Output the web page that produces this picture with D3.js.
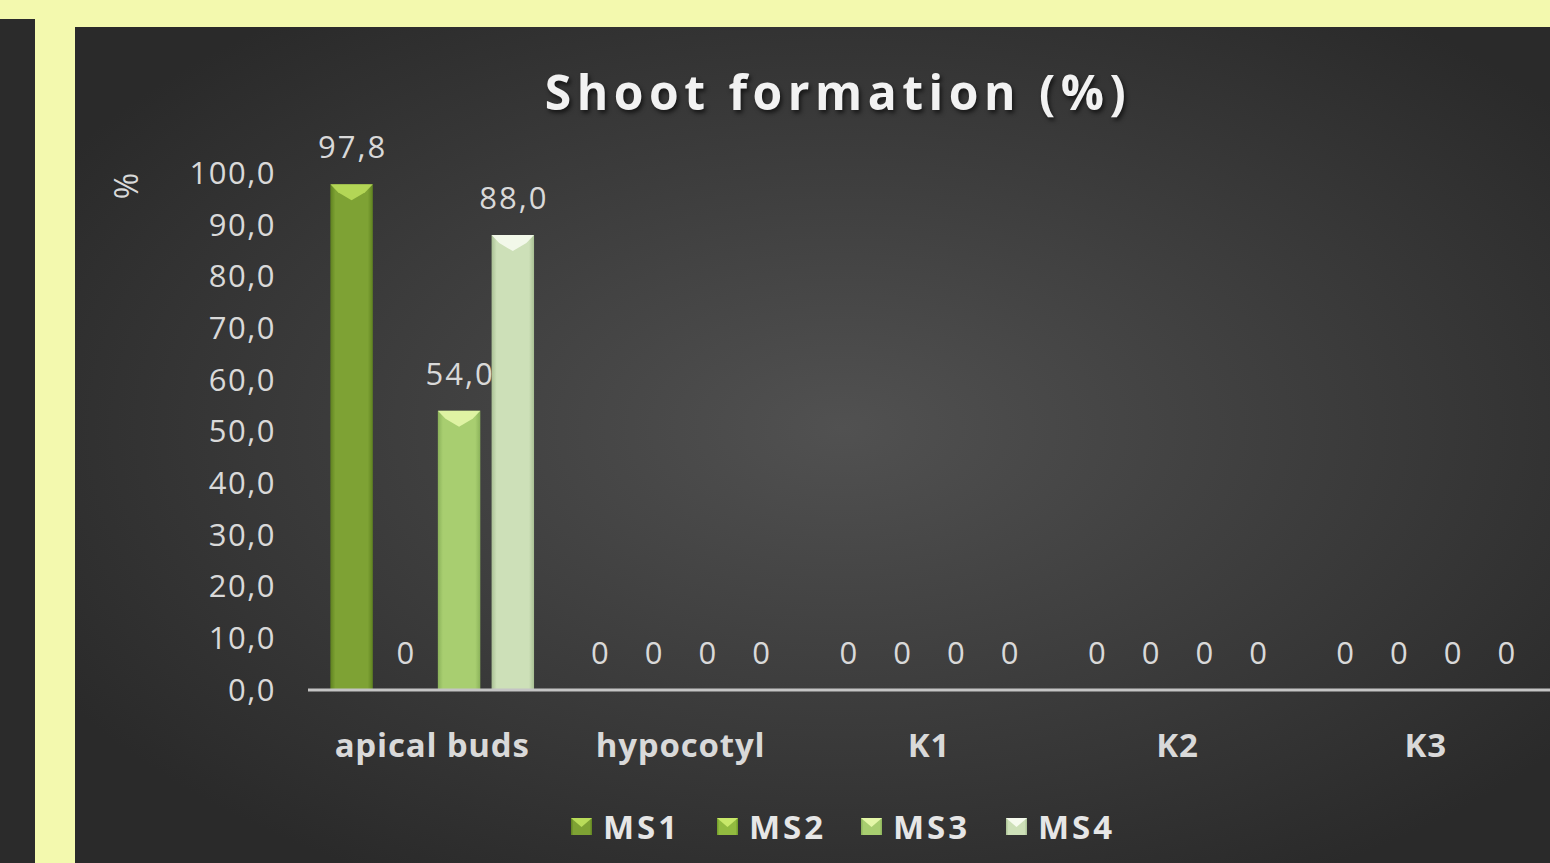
<!DOCTYPE html>
<meta charset="utf-8">
<style>
body { margin: 0; background: #f3f9ae; }
svg { display: block; }
</style>
<svg id="chart" width="1550" height="863"></svg>
<script src="https://cdn.jsdelivr.net/npm/d3@7"></script>
<script>
var categories = ["apical buds", "hypocotyl", "K1", "K2", "K3"];
var series = ["MS1", "MS2", "MS3", "MS4"];
var ms1 = [97.8, 0, 0, 0, 0];
var ms2 = [0, 0, 0, 0, 0];
var ms3 = [54.0, 0, 0, 0, 0];
var ms4 = [88.0, 0, 0, 0, 0];
var yTicks = [0, 10, 20, 30, 40, 50, 60, 70, 80, 90, 100];

var values = [ms1, ms2, ms3, ms4];
// colours: [edge, middle, top highlight]
var colors = [
  ["#5f8220", "#7ea234", "#b9dc5a"],
  ["#6f9a28", "#92bb40", "#c8e86a"],
  ["#8bb25a", "#a8ce70", "#e4f7a8"],
  ["#a9c094", "#cde0b8", "#f6fbee"]
];

var svg = d3.select("#chart");
var defs = svg.append("defs");

// page panels
svg.append("rect").attr("x", 0).attr("y", 19).attr("width", 35).attr("height", 844).attr("fill", "#2b2b2b");

var bg = defs.append("radialGradient").attr("id", "bg")
  .attr("cx", "52%").attr("cy", "48%").attr("r", "62%");
bg.append("stop").attr("offset", "0%").attr("stop-color", "#515151");
bg.append("stop").attr("offset", "100%").attr("stop-color", "#2a2a2a");
svg.append("rect").attr("x", 75).attr("y", 27).attr("width", 1475).attr("height", 836).attr("fill", "url(#bg)");

colors.forEach(function(c, i) {
  var g = defs.append("linearGradient").attr("id", "bar" + i).attr("x1", "0%").attr("x2", "100%");
  g.append("stop").attr("offset", "0%").attr("stop-color", c[0]);
  g.append("stop").attr("offset", "12%").attr("stop-color", c[1]);
  g.append("stop").attr("offset", "88%").attr("stop-color", c[1]);
  g.append("stop").attr("offset", "100%").attr("stop-color", c[0]);
});

var x0 = d3.scaleBand()
    .domain(categories)
    .range([308, 1550])
    .paddingInner(0.18)
    .paddingOuter(0.09);
var x1 = d3.scaleBand()
    .domain(series)
    .range([0, x0.bandwidth()])
    .paddingInner(0.21);
var y = d3.scaleLinear()
    .domain([0, 100])
    .range([690, 173]);

var fmt = function(v) { return d3.format(".1f")(v).replace(".", ","); };

// y axis labels
svg.append("g")
  .selectAll("text")
  .data(yTicks)
  .join("text")
    .attr("x", 276)
    .attr("y", function(d) { return y(d); })
    .attr("dy", "0.35em")
    .attr("text-anchor", "end")
    .attr("font-family", "Open Sans")
    .attr("font-size", 31)
    .attr("letter-spacing", 1.5)
    .attr("fill", "#d9d9d9")
    .text(fmt);

svg.append("text")
  .attr("transform", "translate(127,186) rotate(-90)")
  .attr("text-anchor", "middle")
  .attr("dy", "0.35em")
  .attr("font-family", "Open Sans")
  .attr("font-size", 32)
  .attr("fill", "#d9d9d9")
  .text("%");

// title
svg.append("text")
  .attr("x", 838)
  .attr("y", 110)
  .attr("text-anchor", "middle")
  .attr("font-family", "Open Sans")
  .attr("font-weight", "bold")
  .attr("font-size", 48)
  .attr("letter-spacing", 5.5)
  .attr("fill", "#f2f2f2")
  .style("filter", "drop-shadow(2px 3px 2px rgba(0,0,0,0.6))")
  .text("Shoot formation (%)");

// bars
var groups = svg.append("g")
  .selectAll("g")
  .data(categories)
  .join("g")
    .attr("transform", function(d) { return "translate(" + x0(d) + ",0)"; });

var cells = groups.selectAll("g")
  .data(function(d, ci) { return series.map(function(s, si) { return {s: s, si: si, v: values[si][ci]}; }); })
  .join("g");

cells.filter(function(d) { return d.v > 0; })
  .append("rect")
    .attr("x", function(d) { return x1(d.s); })
    .attr("y", function(d) { return y(d.v); })
    .attr("width", x1.bandwidth())
    .attr("height", function(d) { return y(0) - y(d.v); })
    .attr("fill", function(d) { return "url(#bar" + d.si + ")"; });

cells.filter(function(d) { return d.v > 0; })
  .append("path")
    .attr("d", function(d) {
      var l = x1(d.s), w = x1.bandwidth(), t = y(d.v);
      return "M" + l + "," + t + "H" + (l + w) + "L" + (l + w * 0.82) + "," + (t + 8) +
        "L" + (l + w / 2) + "," + (t + 16) + "L" + (l + w * 0.18) + "," + (t + 8) + "Z";
    })
    .attr("fill", function(d) { return colors[d.si][2]; })
    .attr("opacity", 0.9);

cells.append("text")
  .attr("x", function(d) { return x1(d.s) + x1.bandwidth() / 2 + 1; })
  .attr("y", function(d) { return y(d.v) - 26; })
  .attr("text-anchor", "middle")
  .attr("font-family", "Open Sans")
  .attr("font-size", 31)
  .attr("letter-spacing", 2)
  .attr("fill", "#d9d9d9")
  .text(function(d) { return d.v === 0 ? "0" : fmt(d.v); });

// baseline
svg.append("line")
  .attr("x1", 308).attr("x2", 1550)
  .attr("y1", y(0)).attr("y2", y(0))
  .attr("stroke", "#c4c4c4")
  .attr("stroke-width", 3);

// category labels
svg.append("g")
  .selectAll("text")
  .data(categories)
  .join("text")
    .attr("x", function(d) { return x0(d) + x0.bandwidth() / 2; })
    .attr("y", 757)
    .attr("text-anchor", "middle")
    .attr("font-family", "Open Sans")
    .attr("font-weight", "bold")
    .attr("font-size", 33)
    .attr("letter-spacing", 0.8)
    .attr("fill", "#d9d9d9")
    .text(function(d) { return d; });

// legend
var legendX = [571, 717, 861, 1006];
var legend = svg.append("g")
  .selectAll("g")
  .data(series)
  .join("g")
    .attr("transform", function(d, i) { return "translate(" + legendX[i] + ",827)"; });
legend.append("rect")
  .attr("x", 0).attr("y", -9).attr("width", 21).attr("height", 17)
  .attr("fill", function(d, i) { return "url(#bar" + i + ")"; });
legend.append("path")
  .attr("d", "M0,-9H21L10.5,0Z")
  .attr("fill", function(d, i) { return colors[i][2]; });
legend.append("text")
  .attr("x", 32)
  .attr("dy", "0.36em")
  .attr("font-family", "Open Sans")
  .attr("font-weight", "bold")
  .attr("font-size", 33)
  .attr("letter-spacing", 3)
  .attr("fill", "#e6e6e6")
  .text(function(d) { return d; });
</script>
